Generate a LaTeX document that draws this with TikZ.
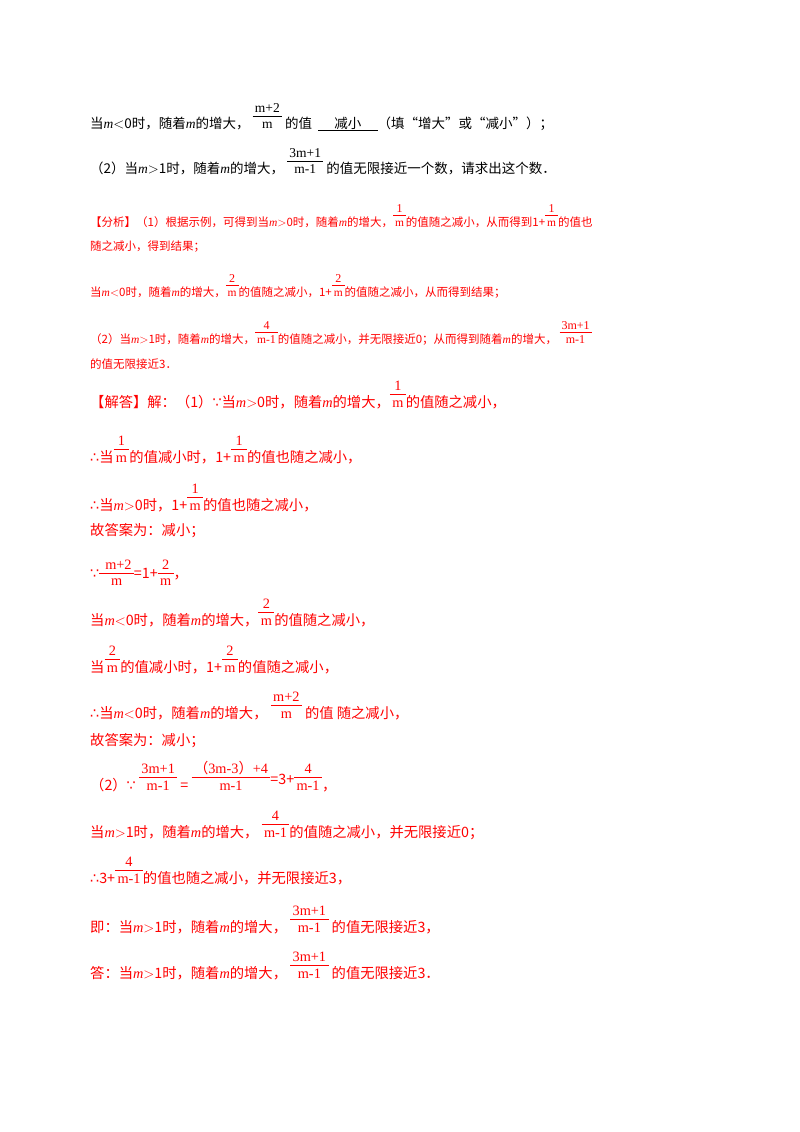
\documentclass[tikz,border=0pt]{standalone}
\usepackage{fontspec}
\setmainfont{Noto Sans CJK SC}
\newfontfamily\tnr{Liberation Serif}
\newfontfamily\dvsfont{DejaVu Sans}
\newfontfamily\cjkf{Noto Sans CJK SC}
\newcommand\M{{\tnr\itshape m}}
\newcommand\fr[2]{{\tnr\setlength{\arrayrulewidth}{0.7pt}\begin{tabular}[b]{@{\,}c@{\,}}#1\\[-1pt]\hline\noalign{\vskip 1pt}#2\end{tabular}}}
\newcommand\frc[2]{{\tnr\setlength{\arrayrulewidth}{0.7pt}\begin{tabular}[c]{@{\,}c@{\,}}#1\\[-1pt]\hline\noalign{\vskip 1pt}#2\end{tabular}}}
\newcommand\yin{{\dvsfont ∵}}
\newcommand\suo{{\dvsfont ∴}}
\definecolor{ans}{RGB}{255,0,0}
\begin{document}
\begin{tikzpicture}[x=1pt,y=-1pt,
  ln/.style={anchor=base west,inner sep=0pt,font=\fontsize{13.5}{15}\selectfont},
  la/.style={anchor=base west,inner sep=0pt,font=\fontsize{11.5}{13}\selectfont,text=ans},
  lb/.style={anchor=base west,inner sep=0pt,font=\fontsize{14.3}{16}\selectfont,text=ans}]
\useasboundingbox (0,0) rectangle (800,1132);
\node[ln] (q1) at (90,128) {当\M$<$0时，随着\M 的增大，\ \fr{m+2}{m}\ 的值\ \ \underline{\hspace{1.2em}减小\hspace{1.2em}}（填“增大”或“减小”）；};
\node[ln] (q2) at (90,173) {（2）当\M$>$1时，随着\M 的增大，\ \fr{3m+1}{m-1}\ 的值无限接近一个数，请求出这个数．};
\node[la] (a1) at (90,226) {【分析】（1）根据示例，可得到当\M$>$0时，随着\M 的增大，\fr{\large 1}{m}的值随之减小，从而得到1+\fr{\large 1}{m}的值也};
\node[la] (a2) at (90,250) {随之减小，得到结果；};
\node[la] (a3) at (90,296) {当\M$<$0时，随着\M 的增大，\fr{\large 2}{m}的值随之减小，1+\fr{\large 2}{m}的值随之减小，从而得到结果；};
\node[la] (a4) at (90,343) {（2）当\M$>$1时，随着\M 的增大，\fr{\large 4}{m-\large 1}的值随之减小，并无限接近0；从而得到随着\M 的增大，\ \fr{\large 3m+1}{\large m-1}};
\node[la] (a5) at (90,368) {的值无限接近3．};
\node[lb] (s1) at (90,407) {【解答】解：（1）\yin 当\M$>$0时，随着\M 的增大，\fr{1}{m}的值随之减小，};
\node[lb] (s2) at (90,462) {\suo 当\fr{1}{m}的值减小时，1+\fr{1}{m}的值也随之减小，};
\node[lb] (s3) at (90,510) {\suo 当\M$>$0时，1+\fr{1}{m}的值也随之减小，};
\node[lb] (s4) at (90,535) {故答案为：减小；};
\node[lb] (s5) at (90,578) {\yin\frc{\ m+2\ }{m}=1+\frc{2}{m}，};
\node[lb] (s6) at (90,625) {当\M$<$0时，随着\M 的增大，\fr{2}{m}的值随之减小，};
\node[lb] (s7) at (90,672) {当\fr{2}{m}的值减小时，1+\fr{2}{m}的值随之减小，};
\node[lb] (s8) at (90,718) {\suo 当\M$<$0时，随着\M 的增大，\ \fr{m+2}{m}\ 的值\ 随之减小，};
\node[lb] (s9) at (90,745) {故答案为：减小；};
\node[lb] (s10) at (90,790) {（2）\yin\ \fr{3m+1}{m-1}\ =\ \fr{{\cjkf（}3m-3{\cjkf）}+4}{m-1}\raisebox{6pt}{=3+}\fr{4}{m-1}，};
\node[lb] (s11) at (90,837) {当\M$>$1时，随着\M 的增大，\ \fr{4}{m-1}的值随之减小，并无限接近0；};
\node[lb] (s12) at (90,883) {\suo 3+\fr{4}{m-1}的值也随之减小，并无限接近3，};
\node[lb] (s13) at (90,932) {即：当\M$>$1时，随着\M 的增大，\ \fr{3m+1}{m-1}\ 的值无限接近3，};
\node[lb] (s14) at (90,978) {答：当\M$>$1时，随着\M 的增大，\ \fr{3m+1}{m-1}\ 的值无限接近3．};
\end{tikzpicture}
\end{document}
